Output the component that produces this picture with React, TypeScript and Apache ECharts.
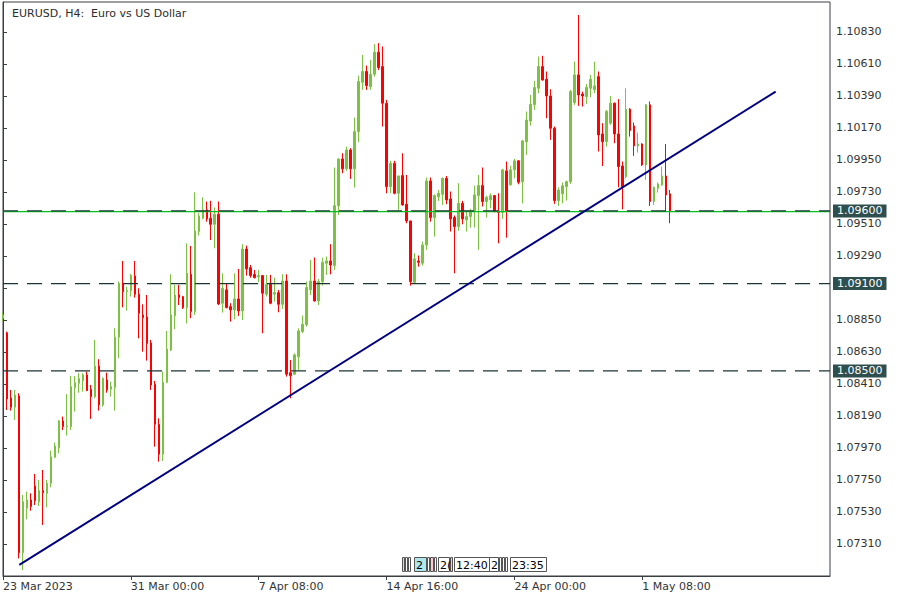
import React, { useEffect, useRef } from 'react';
import * as echarts from 'echarts';

// H4 bars, first visible bar = 23 Mar 2023 16:00
const opens = [
  1.08862, 1.08763, 1.08314, 1.0825, 1.08328, 1.0725, 1.07555, 1.07613, 1.07709, 1.07601,
  1.07677, 1.07658, 1.07727, 1.07906, 1.07972, 1.08156, 1.08117, 1.08117, 1.08385, 1.08415,
  1.08433, 1.08472, 1.08374, 1.08323, 1.08534, 1.08266, 1.08438, 1.08374, 1.08387, 1.08731,
  1.09102, 1.09045, 1.09052, 1.09153, 1.09027, 1.08885, 1.08871, 1.08692, 1.08408, 1.08133,
  1.07927, 1.08422, 1.08644, 1.0888, 1.09022, 1.09011, 1.08935, 1.09164, 1.08908, 1.09458,
  1.09549, 1.09607, 1.09549, 1.09508, 1.09577, 1.08965, 1.09057, 1.08942, 1.08919, 1.08995,
  1.08912, 1.09338, 1.0921, 1.09164, 1.09146, 1.09155, 1.09027, 1.09096, 1.09027, 1.09038,
  1.08958, 1.09118, 1.08488, 1.08477, 1.08598, 1.0877, 1.08818, 1.09057, 1.09118, 1.08981,
  1.09114, 1.0924, 1.09256, 1.09225, 1.09636, 1.09957, 1.09889, 1.10019, 1.09889, 1.10145,
  1.10484, 1.10558, 1.10455, 1.10539, 1.10691, 1.10592, 1.1034, 1.09767, 1.09927, 1.09721,
  1.09843, 1.09646, 1.09531, 1.09109, 1.09256, 1.0924, 1.09366, 1.09806, 1.09554, 1.09698,
  1.09714, 1.09824, 1.09682, 1.09554, 1.09492, 1.09652, 1.09538, 1.09561, 1.09595, 1.09705,
  1.09774, 1.09664, 1.09675, 1.09705, 1.09597, 1.0959, 1.09875, 1.09779, 1.09882, 1.09944,
  1.09801, 1.10076, 1.10218, 1.1033, 1.10443, 1.10592, 1.10505, 1.1039, 1.10168, 1.09671,
  1.09717, 1.09767, 1.09801, 1.10345, 1.10535, 1.10404, 1.10386, 1.10443, 1.10432, 1.10523,
  1.10129, 1.10076, 1.10203, 1.1034, 1.10129, 1.09909, 1.09836, 1.10299, 1.10184, 1.10047,
  1.1006, 1.09916, 1.10329, 1.09664, 1.09755, 1.09779, 1.0984, 1.09717,
];
const highs = [
  1.089, 1.0877, 1.08369, 1.08369, 1.08346, 1.07647, 1.0767, 1.07658, 1.07791, 1.0775,
  1.07819, 1.0775, 1.07952, 1.08007, 1.08163, 1.08186, 1.08341, 1.08465, 1.08465, 1.08484,
  1.08484, 1.08495, 1.08403, 1.08713, 1.0858, 1.08454, 1.08488, 1.08426, 1.08793, 1.09114,
  1.09256, 1.09079, 1.09167, 1.09256, 1.09068, 1.08958, 1.09022, 1.08713, 1.08431, 1.08174,
  1.08495, 1.08775, 1.09164, 1.09091, 1.09091, 1.09016, 1.09377, 1.09359, 1.09728, 1.09584,
  1.09694, 1.09664, 1.09669, 1.09623, 1.09664, 1.09171, 1.09102, 1.08965, 1.09171, 1.09201,
  1.09371, 1.09361, 1.09228, 1.09194, 1.09194, 1.0916, 1.0916, 1.0916, 1.09141, 1.09057,
  1.09164, 1.09164, 1.08575, 1.08621, 1.08793, 1.0888, 1.09114, 1.09263, 1.09279, 1.09132,
  1.09279, 1.09286, 1.09371, 1.09898, 1.09961, 1.09996, 1.10042, 1.10031, 1.10242, 1.1053,
  1.10672, 1.10599, 1.10638, 1.10746, 1.10753, 1.1073, 1.10363, 1.09944, 1.09944, 1.09843,
  1.09996, 1.09847, 1.09531, 1.09309, 1.09293, 1.09389, 1.09829, 1.09829, 1.09714, 1.09744,
  1.09829, 1.0984, 1.09733, 1.09568, 1.0979, 1.09669, 1.09595, 1.09614, 1.09774, 1.09847,
  1.09898, 1.09705, 1.09721, 1.0971, 1.09721, 1.09889, 1.09939, 1.09911, 1.09957, 1.0995,
  1.10088, 1.10283, 1.10397, 1.10494, 1.10661, 1.10666, 1.10558, 1.10436, 1.1018, 1.09762,
  1.09795, 1.09808, 1.10432, 1.10626, 1.10947, 1.1042, 1.10473, 1.10535, 1.10626, 1.10558,
  1.10203, 1.10294, 1.1039, 1.10345, 1.10368, 1.09939, 1.10443, 1.10306, 1.10207, 1.10138,
  1.10065, 1.10335, 1.10352, 1.09767, 1.09795, 1.09905, 1.1006, 1.09744,
];
const lows = [
  1.0884, 1.08231, 1.08227, 1.08163, 1.07211, 1.07131, 1.0748, 1.07539, 1.07578, 1.07571,
  1.07441, 1.07562, 1.077, 1.079, 1.07933, 1.08094, 1.08055, 1.08094, 1.0822, 1.0835,
  1.08357, 1.08362, 1.0817, 1.08312, 1.08227, 1.08254, 1.0835, 1.08323, 1.08227, 1.08587,
  1.08937, 1.08914, 1.09011, 1.09004, 1.08724, 1.08632, 1.08571, 1.08369, 1.07979, 1.07876,
  1.07881, 1.08415, 1.08637, 1.08788, 1.08953, 1.08926, 1.08827, 1.08862, 1.08885, 1.0943,
  1.09542, 1.09526, 1.094, 1.09343, 1.08953, 1.08901, 1.0893, 1.08839, 1.08855, 1.08878,
  1.0885, 1.09155, 1.09141, 1.09136, 1.09109, 1.08759, 1.09011, 1.08958, 1.08976, 1.08903,
  1.08926, 1.08461, 1.08312, 1.08472, 1.08506, 1.08759, 1.08804, 1.09022, 1.08976, 1.08953,
  1.09086, 1.0916, 1.09164, 1.09194, 1.09572, 1.09859, 1.09875, 1.0982, 1.0976, 1.10072,
  1.10432, 1.10432, 1.10432, 1.10523, 1.10569, 1.1018, 1.09721, 1.09721, 1.09714, 1.09607,
  1.09636, 1.09515, 1.09086, 1.09102, 1.09217, 1.09224, 1.09332, 1.09526, 1.09423, 1.09669,
  1.09641, 1.09646, 1.09458, 1.09171, 1.09462, 1.09508, 1.09458, 1.09485, 1.09485, 1.09332,
  1.0963, 1.09554, 1.09618, 1.09591, 1.09377, 1.09545, 1.09416, 1.09774, 1.09824, 1.09783,
  1.09652, 1.09985, 1.10186, 1.10294, 1.10409, 1.10496, 1.10237, 1.10088, 1.09648, 1.09634,
  1.09652, 1.09671, 1.09785, 1.10329, 1.10322, 1.10317, 1.10335, 1.10381, 1.10409, 1.10008,
  1.09909, 1.10042, 1.10191, 1.10065, 1.09762, 1.09611, 1.09824, 1.10111, 1.09978, 1.10001,
  1.09909, 1.09813, 1.09634, 1.09641, 1.09726, 1.09772, 1.09595, 1.09515,
];
const closes = [
  1.08885, 1.08307, 1.0825, 1.08335, 1.0725, 1.07601, 1.07613, 1.07567, 1.07608, 1.07677,
  1.07663, 1.07727, 1.0791, 1.07984, 1.08156, 1.08117, 1.08121, 1.08392, 1.08419, 1.08447,
  1.08472, 1.08364, 1.08323, 1.08534, 1.08266, 1.08449, 1.08369, 1.08392, 1.08731, 1.09102,
  1.09045, 1.09052, 1.09157, 1.09027, 1.08896, 1.08866, 1.08688, 1.08403, 1.08133, 1.07927,
  1.08422, 1.08651, 1.08885, 1.09022, 1.09004, 1.08935, 1.09171, 1.08908, 1.09462, 1.09565,
  1.09607, 1.09545, 1.09508, 1.09577, 1.0896, 1.09068, 1.08935, 1.08919, 1.08995, 1.08912,
  1.09338, 1.09201, 1.09155, 1.09141, 1.09155, 1.09034, 1.09096, 1.08965, 1.09038, 1.08958,
  1.09118, 1.08477, 1.08467, 1.0861, 1.08775, 1.0882, 1.09073, 1.09118, 1.08981, 1.09114,
  1.09247, 1.09256, 1.09228, 1.09636, 1.09957, 1.09889, 1.10019, 1.09889, 1.10145, 1.10489,
  1.10558, 1.10462, 1.10539, 1.10691, 1.10585, 1.1034, 1.09767, 1.09927, 1.09721, 1.0984,
  1.09641, 1.09531, 1.09114, 1.0927, 1.09247, 1.09366, 1.09806, 1.09554, 1.09705, 1.09721,
  1.09824, 1.09675, 1.09545, 1.09492, 1.09652, 1.09545, 1.09561, 1.09595, 1.0971, 1.09774,
  1.09664, 1.09694, 1.09705, 1.09595, 1.0959, 1.09882, 1.09595, 1.09882, 1.09944, 1.09797,
  1.10081, 1.10225, 1.10333, 1.10448, 1.10592, 1.105, 1.1039, 1.10168, 1.09671, 1.09744,
  1.09772, 1.09801, 1.1042, 1.10535, 1.10397, 1.1039, 1.1045, 1.10505, 1.10459, 1.10122,
  1.10076, 1.10283, 1.1034, 1.10129, 1.09905, 1.09767, 1.10299, 1.10152, 1.10047, 1.1006,
  1.09916, 1.10329, 1.09664, 1.09762, 1.09785, 1.0984, 1.0971, 1.09595,
];

const totalSlots = 208; // visible bar slots incl. chart shift on the right
const barsPerLabel = 32;
const xTickLabels = ['23 Mar 2023', '31 Mar 00:00', '7 Apr 08:00', '14 Apr 16:00', '24 Apr 00:00', '1 May 08:00'];
const yMin = 1.0709;
const yMax = 1.11036;
const yStep = 0.0022;
const levels = [1.096, 1.091, 1.085];
const trendPoints = [
  [4.08, 1.07166],
  [193.4, 1.1042],
];
const eventMarkers: [number, number, string, string][] = [
  [402, 2, '#ffc8d2', ''],
  [405, 2, '#ffffff', ''],
  [408, 2, '#ffffff', ''],
  [414, 12, '#aee8ee', '2'],
  [427, 2, '#ffffff', ''],
  [430, 3, '#ffc8d2', ''],
  [434, 2, '#ffffff', ''],
  [438, 11, '#ffffff', '2('],
  [450, 2, '#aee8ee', ''],
  [454, 35, '#ffffff', '12:40'],
  [489, 9, '#ffffff', '2'],
  [499, 2, '#ffffff', ''],
  [502, 2, '#ffffff', ''],
  [505, 2, '#ffffff', ''],
  [510, 36, '#ffffff', '23:35'],
];

const FONT = 'DejaVu Sans';
const AXIS = '#3a3f44';
const TEXT = '#333333';
const UP = '#7cc242';
const DOWN = '#ff0000';
const LEVEL = '#2f4f4f';
const LEVEL_LINE = '#1c3434';

export default function App() {
  const ref = useRef<HTMLDivElement>(null);
  useEffect(() => {
    if (!ref.current) return;
    const chart = echarts.init(ref.current, null, { renderer: 'svg' });
    const candles = opens.map((o, i) => [o, closes[i], lows[i], highs[i]]);
    const lastClose = closes[closes.length - 1];
    const lastSlot = totalSlots - 1;
    const showIdx = (i: number) => i % barsPerLabel === 0 && i / barsPerLabel < xTickLabels.length;
    // axis labels hidden underneath a level's price box
    const coveredByLevel = (v: number) => levels.some((lv) => Math.abs(v - lv) < 0.0004);

    const markerGraphics: any[] = [];
    eventMarkers.forEach(([x, w, fill, t]) => {
      markerGraphics.push({
        type: 'rect',
        shape: { x: x + 0.5, y: 557.5, width: w, height: 14 },
        style: { fill, stroke: '#555', lineWidth: 1 },
        z: 50,
      });
      if (t) {
        markerGraphics.push({
          type: 'text',
          x: x + 2,
          y: 565,
          style: { text: t, fill: '#000', font: `11px "${FONT}"`, verticalAlign: 'middle' },
          z: 51,
        });
      }
    });

    const levelSeries = levels.map((lv) => ({
      type: 'line',
      xAxisIndex: 1,
      data: [
        [0, lv],
        [lastSlot, lv],
      ],
      symbol: 'none',
      silent: true,
      z: 4,
      lineStyle: { color: LEVEL_LINE, type: [15, 9], width: 1.2 },
      endLabel: {
        show: true,
        formatter: () => lv.toFixed(5),
        distance: 3,
        color: '#ffffff',
        backgroundColor: LEVEL,
        padding: [1, 4, 1, 4],
        fontSize: 11,
        fontFamily: FONT,
      },
    }));

    chart.setOption({
      animation: false,
      backgroundColor: '#ffffff',
      title: {
        text: 'EURUSD, H4:  Euro vs US Dollar',
        left: 7,
        top: 3,
        textStyle: { fontSize: 11, fontWeight: 'normal', color: '#2d2d2d', fontFamily: FONT },
      },
      grid: {
        left: 2,
        right: 70,
        top: 2,
        bottom: 24,
        show: true,
        borderColor: AXIS,
        borderWidth: 1,
      },
      xAxis: [
        {
          type: 'category',
          data: Array.from({ length: totalSlots }, (_, i) => String(i)),
          boundaryGap: false,
          axisLine: { lineStyle: { color: AXIS } },
          axisTick: { length: 4, interval: (i: number) => showIdx(i), lineStyle: { color: AXIS } },
          axisLabel: {
            interval: (i: number) => showIdx(i),
            formatter: (v: string) => {
              const i = Number(v);
              return showIdx(i) ? xTickLabels[i / barsPerLabel] : '';
            },
            align: 'left',
            margin: 5,
            fontSize: 11,
            fontFamily: FONT,
            color: TEXT,
          },
          splitLine: { show: false },
        },
        { type: 'value', min: 0, max: lastSlot, show: false },
      ],
      yAxis: {
        type: 'value',
        position: 'right',
        min: yMin,
        max: yMax,
        interval: yStep,
        axisLine: { show: true, lineStyle: { color: AXIS } },
        axisTick: { show: true, length: 4, lineStyle: { color: AXIS } },
        axisLabel: {
          formatter: (v: number) => (coveredByLevel(v) ? '' : v.toFixed(5)),
          showMinLabel: false,
          showMaxLabel: false,
          margin: 6,
          fontSize: 11,
          fontFamily: FONT,
          color: TEXT,
        },
        splitLine: { show: false },
      },
      graphic: markerGraphics,
      series: [
        {
          type: 'candlestick',
          xAxisIndex: 0,
          data: candles,
          barWidth: 2,
          clip: true,
          itemStyle: { color: UP, color0: DOWN, borderColor: UP, borderColor0: DOWN, borderWidth: 1 },
        },
        {
          type: 'line',
          xAxisIndex: 1,
          data: [
            [0, lastClose],
            [lastSlot, lastClose],
          ],
          symbol: 'none',
          silent: true,
          z: 3,
          lineStyle: { color: '#00c020', type: 'solid', width: 1.3 },
        },
        ...levelSeries,
        {
          type: 'line',
          xAxisIndex: 1,
          data: trendPoints,
          symbol: 'none',
          lineStyle: { color: '#000080', width: 2 },
          z: 5,
        },
      ],
    });
    return () => chart.dispose();
  }, []);
  return <div ref={ref} style={{ position: 'absolute', left: 0, top: 0, width: 900, height: 600 }} />;
}
